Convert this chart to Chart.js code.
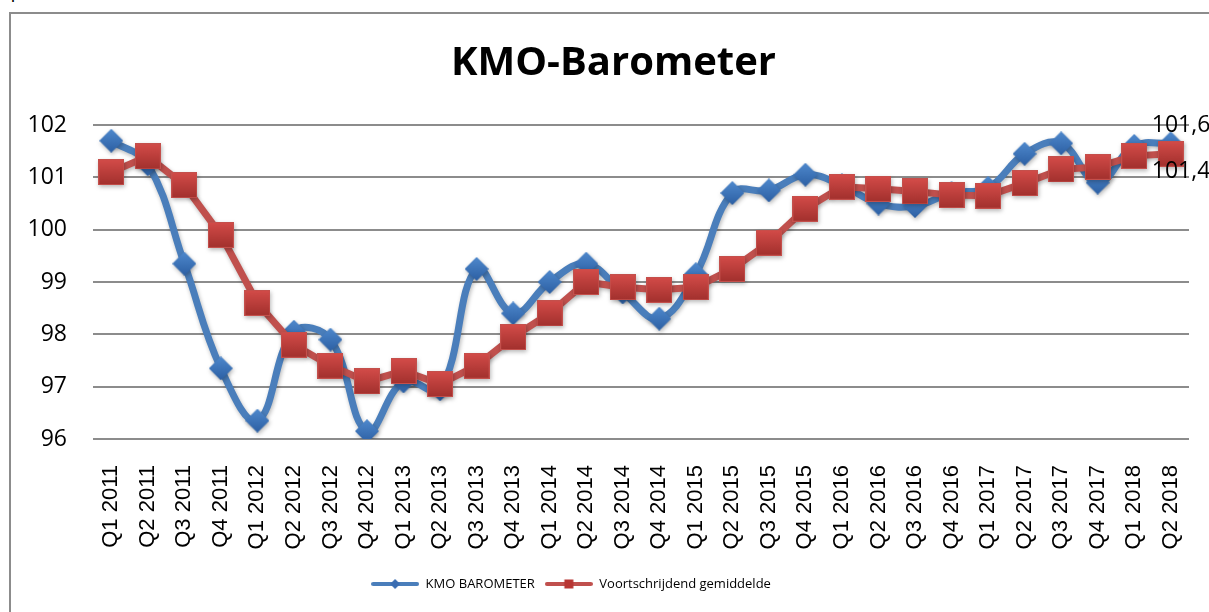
<!DOCTYPE html>
<html>
<head>
<meta charset="utf-8">
<script src="https://cdn.jsdelivr.net/npm/chart.js@4"></script>
<style>
body { margin: 0; background: #fff; overflow: hidden; }
#above { position: absolute; left: 11px; top: -18px; font: 18px "Liberation Sans"; color: #000; }
#frame { position: absolute; left: 9px; top: 12px; width: 1400px; height: 800px; border: 2px solid #8c8c8c; }
#wrap { position: absolute; left: 0; top: 0; width: 1209px; height: 612px; }
</style>
</head>
<body>
<div id="above">punts</div>
<div id="frame"></div>
<div id="wrap"><canvas id="kmoChart" width="1209" height="612"></canvas></div>
<script>
var quarters = ["Q1 2011", "Q2 2011", "Q3 2011", "Q4 2011",
    "Q1 2012", "Q2 2012", "Q3 2012", "Q4 2012",
    "Q1 2013", "Q2 2013", "Q3 2013", "Q4 2013",
    "Q1 2014", "Q2 2014", "Q3 2014", "Q4 2014",
    "Q1 2015", "Q2 2015", "Q3 2015", "Q4 2015",
    "Q1 2016", "Q2 2016", "Q3 2016", "Q4 2016",
    "Q1 2017", "Q2 2017", "Q3 2017", "Q4 2017",
    "Q1 2018", "Q2 2018"];

var barometer = [101.7, 101.25, 99.35, 97.35,
    96.35, 98.05, 97.9, 96.15,
    97.1, 96.95, 99.25, 98.4,
    99.0, 99.35, 98.8, 98.3,
    99.15, 100.7, 100.75, 101.05,
    100.85, 100.5, 100.45, 100.7,
    100.8, 101.45, 101.65, 100.9,
    101.6, 101.65];

var average = [101.1, 101.4, 100.85, 99.9,
    98.6, 97.8, 97.4, 97.1,
    97.3, 97.05, 97.4, 97.95,
    98.4, 99.0, 98.9, 98.85,
    98.9, 99.25, 99.75, 100.4,
    100.82, 100.78, 100.73, 100.66,
    100.65, 100.89, 101.15, 101.2,
    101.41, 101.45];

var yTicks = [96, 97, 98, 99, 100, 101, 102];

var seriesNames = ["KMO BAROMETER", "Voortschrijdend gemiddelde"];

// marker pictures, drawn once on small canvases
function makeIcon(w, h, draw) {
    var c = document.createElement("canvas");
    c.width = w;
    c.height = h;
    draw(c.getContext("2d"), w, h);
    return c;
}

var diamond = makeIcon(24, 24, function (g, w, h) {
    var gr = g.createLinearGradient(0, 0, 0, h);
    gr.addColorStop(0, "#4f89cd");
    gr.addColorStop(1, "#2c5fa3");
    g.fillStyle = gr;
    g.beginPath();
    g.moveTo(w / 2, 0);
    g.lineTo(w, h / 2);
    g.lineTo(w / 2, h);
    g.lineTo(0, h / 2);
    g.closePath();
    g.fill();
});

var square = makeIcon(26, 26, function (g, w, h) {
    var gr = g.createLinearGradient(0, 0, 0, h);
    gr.addColorStop(0, "#d44c49");
    gr.addColorStop(1, "#a1302d");
    g.fillStyle = gr;
    g.fillRect(0, 0, w, h);
    g.strokeStyle = "#c4504c";
    g.lineWidth = 1;
    g.strokeRect(0.5, 0.5, w - 1, h - 1);
});

var legendBlue = makeIcon(48, 12, function (g, w, h) {
    g.strokeStyle = "#4a7ebb";
    g.lineWidth = 4;
    g.lineCap = "round";
    g.beginPath();
    g.moveTo(2, h / 2);
    g.lineTo(w - 2, h / 2);
    g.stroke();
    g.fillStyle = "#3a6db2";
    g.beginPath();
    g.moveTo(w / 2, h / 2 - 5);
    g.lineTo(w / 2 + 5, h / 2);
    g.lineTo(w / 2, h / 2 + 5);
    g.lineTo(w / 2 - 5, h / 2);
    g.closePath();
    g.fill();
});

var legendRed = makeIcon(48, 12, function (g, w, h) {
    g.strokeStyle = "#c0504d";
    g.lineWidth = 4;
    g.lineCap = "round";
    g.beginPath();
    g.moveTo(2, h / 2);
    g.lineTo(w - 2, h / 2);
    g.stroke();
    g.fillStyle = "#b83532";
    g.fillRect(w / 2 - 4.5, h / 2 - 4.5, 9, 9);
});

var legendIcons = [legendBlue, legendRed];

// soft shadow under the lines, like the office chart
var shadowPlugin = {
    id: "shadow",
    beforeDatasetDraw: function (chart) {
        var ctx = chart.ctx;
        ctx.save();
        ctx.shadowColor = "rgba(0,0,0,0.28)";
        ctx.shadowBlur = 4;
        ctx.shadowOffsetX = 1;
        ctx.shadowOffsetY = 2;
    },
    afterDatasetDraw: function (chart) {
        chart.ctx.restore();
    }
};

// title sits a bit right of the plot centre, legend a bit left
var nudge = {
    id: "nudge",
    afterLayout: function (chart) {
        chart.titleBlock.left += 37;
        chart.legend.left -= 48;
    }
};

// value labels at the last quarter
var endLabels = {
    id: "endLabels",
    afterDatasetsDraw: function (chart) {
        var ctx = chart.ctx;
        var shift = [-18, 18];
        ctx.save();
        ctx.font = '23px "Open Sans"';
        ctx.fillStyle = "#000";
        ctx.textAlign = "left";
        ctx.textBaseline = "middle";
        chart.data.datasets.forEach(function (ds, i) {
            var meta = chart.getDatasetMeta(i);
            var pt = meta.data[meta.data.length - 1];
            var v = ds.data[ds.data.length - 1];
            ctx.fillText(v.toFixed(2).replace(".", ","), pt.x - 19, pt.y + shift[i]);
        });
        ctx.restore();
    }
};

new Chart("kmoChart", {
    type: "line",
    data: {
        labels: quarters,
        datasets: [{
            label: seriesNames[0],
            data: barometer,
            borderColor: "#4a7ebb",
            backgroundColor: "#3a6db2",
            borderWidth: 7,
            tension: 0.4,
            pointStyle: diamond,
            pointRadius: 12,
            fill: false,
            order: 2
        }, {
            label: seriesNames[1],
            data: average,
            borderColor: "#c0504d",
            backgroundColor: "#b83532",
            borderWidth: 7,
            tension: 0,
            pointStyle: square,
            pointRadius: 13,
            fill: false,
            order: 1
        }]
    },
    options: {
        responsive: false,
        animation: false,
        layout: {
            padding: { left: 0, right: 19, top: 0, bottom: 11.5 }
        },
        scales: {
            x: {
                offset: true,
                grid: { display: false },
                border: { display: false },
                ticks: {
                    autoSkip: false,
                    minRotation: 90,
                    maxRotation: 90,
                    padding: 18,
                    color: "#000",
                    font: { family: "Liberation Sans", size: 22 }
                },
                afterFit: function (s) {
                    s.height = 128.5;
                    s.paddingLeft = 0;
                    s.paddingRight = 0;
                }
            },
            y: {
                min: 96,
                max: 102,
                grid: { color: "#8c8c8c", lineWidth: 2, drawTicks: false },
                border: { display: false },
                ticks: {
                    padding: 26,
                    color: "#000",
                    font: { family: "Open Sans", size: 23 }
                },
                afterBuildTicks: function (s) {
                    s.ticks = yTicks.map(function (v) { return { value: v }; });
                },
                afterFit: function (s) { s.width = 93; }
            }
        },
        plugins: {
            title: {
                display: true,
                text: "KMO-Barometer",
                color: "#000",
                font: { family: "Open Sans", size: 40, weight: "bold" },
                padding: { top: 40, bottom: 37 }
            },
            legend: {
                position: "bottom",
                labels: {
                    usePointStyle: true,
                    pointStyleWidth: 48,
                    boxHeight: 12,
                    padding: 10,
                    color: "#000",
                    font: { family: "Open Sans", size: 13 },
                    generateLabels: function (chart) {
                        return chart.data.datasets.map(function (ds, i) {
                            return {
                                text: ds.label,
                                pointStyle: legendIcons[i],
                                datasetIndex: i,
                                fontColor: "#000",
                                fillStyle: "transparent",
                                strokeStyle: "transparent",
                                lineWidth: 0,
                                hidden: false
                            };
                        });
                    }
                }
            },
            tooltip: { enabled: false }
        }
    },
    plugins: [shadowPlugin, nudge, endLabels]
});
</script>
</body>
</html>
